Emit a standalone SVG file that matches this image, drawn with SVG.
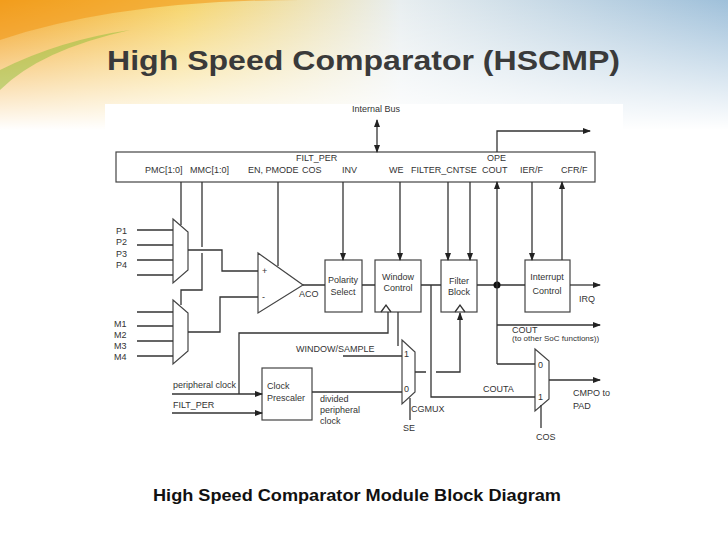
<svg xmlns="http://www.w3.org/2000/svg" width="728" height="546" viewBox="0 0 728 546">
<defs>
<linearGradient id="bg" x1="0" y1="0" x2="1" y2="0">
<stop offset="0" stop-color="#f2a21e"/><stop offset="0.25" stop-color="#f6d46a"/><stop offset="0.55" stop-color="#e8eef0"/><stop offset="1" stop-color="#9fc0da"/>
</linearGradient>
<linearGradient id="fade" x1="0" y1="0" x2="0" y2="1">
<stop offset="0" stop-color="#fff" stop-opacity="0"/><stop offset="1" stop-color="#fff" stop-opacity="1"/>
</linearGradient>
<marker id="a" markerWidth="8" markerHeight="8" refX="7" refY="4" orient="auto-start-reverse" markerUnits="userSpaceOnUse"><path d="M0,1 L8,4 L0,7 Z" fill="#222"/></marker>
<style>
.l{stroke:#333;stroke-width:1.3;fill:none}
.b{stroke:#444;stroke-width:1.2;fill:#fff}
text{font-family:"Liberation Sans",Arial,sans-serif;fill:#333}
.t{font-size:9px}
.c{font-size:9px;text-anchor:middle}
</style>
</defs>
<rect width="728" height="546" fill="#fff"/>
<rect width="728" height="130" fill="url(#bg)"/>
<rect width="728" height="130" fill="url(#fade)"/>
<path d="M0,40 Q120,0 300,0 L0,0 Z" fill="#f29a1a" opacity="0.6"/>
<path d="M0,90 Q40,50 130,30 Q60,40 0,70 Z" fill="#8fbf3a" opacity="0.5"/>
<text x="107" y="70" textLength="513" lengthAdjust="spacingAndGlyphs" style="font-size:28px;font-weight:bold;fill:#3a3a3a">High Speed Comparator (HSCMP)</text>
<rect x="105" y="104" width="518" height="338" fill="#fff"/>

<g id="register"><rect class="b" x="116" y="152" width="479" height="30"/>
<text class="t" x="145" y="173">PMC[1:0]</text><text class="t" x="190" y="173">MMC[1:0]</text>
<text class="t" x="248" y="173">EN, PMODE</text><text class="t" x="296" y="161">FILT_PER</text><text class="t" x="302" y="173">COS</text>
<text class="t" x="342" y="173">INV</text><text class="t" x="389" y="173">WE</text><text class="t" x="411" y="173">FILTER_CNTSE</text>
<text class="t" x="487" y="161">OPE</text><text class="t" x="482" y="173">COUT</text><text class="t" x="520" y="173">IER/F</text><text class="t" x="561" y="173">CFR/F</text></g>
<g id="bus"><text class="t" x="352" y="112">Internal Bus</text></g>
<g id="mux1"><path class="b" d="M173,219 L188,232 L188,270 L173,283 Z"/>
<text class="t" x="116" y="234">P1</text><text class="t" x="116" y="245">P2</text><text class="t" x="116" y="257">P3</text><text class="t" x="116" y="268">P4</text></g>
<g id="mux2"><path class="b" d="M173,300 L188,313 L188,351 L173,364 Z"/>
<text class="t" x="114" y="327">M1</text><text class="t" x="114" y="338">M2</text><text class="t" x="114" y="349">M3</text><text class="t" x="114" y="360">M4</text></g>
<g id="comparator"><path class="b" d="M258,253 L258,313 L303,285 Z"/>
<text class="t" x="262" y="274">+</text><text class="t" x="262" y="300">-</text><text class="t" x="299" y="297">ACO</text></g>
<g id="polarity"><rect class="b" x="325" y="260" width="37" height="52"/><text class="c" x="343" y="283">Polarity</text><text class="c" x="343" y="295">Select</text></g>
<g id="window"><rect class="b" x="375" y="260" width="46" height="52"/><text class="c" x="398" y="280">Window</text><text class="c" x="398" y="291">Control</text><path class="l" d="M381,312 L386,305 L391,312" stroke-width="1"/></g>
<g id="filter"><rect class="b" x="441" y="260" width="36" height="52"/><text class="c" x="459" y="284">Filter</text><text class="c" x="459" y="295">Block</text><path class="l" d="M455,312 L460,305 L465,312" stroke-width="1"/></g>
<g id="interrupt"><rect class="b" x="525" y="260" width="45" height="52"/><text class="c" x="547" y="280">Interrupt</text><text class="c" x="547" y="294">Control</text><text class="t" x="579" y="302">IRQ</text></g>
<g id="prescaler"><rect class="b" x="262" y="368" width="50" height="52"/><text class="t" x="267" y="389">Clock</text><text class="t" x="267" y="401">Prescaler</text>
<text class="t" x="173" y="388">peripheral clock</text><text class="t" x="173" y="408">FILT_PER</text>
<text class="t" x="320" y="402">divided</text><text class="t" x="320" y="413">peripheral</text><text class="t" x="320" y="424">clock</text></g>
<g id="cgmux"><path class="b" d="M402,340 L415,352 L415,392 L402,404 Z"/><text class="t" x="404" y="357">1</text><text class="t" x="404" y="392">0</text>
<text class="t" x="296" y="352">WINDOW/SAMPLE</text><text class="t" x="411" y="412">CGMUX</text><text class="t" x="403" y="431">SE</text></g>
<g id="outmux"><path class="b" d="M535,349 L549,361 L549,399 L535,411 Z"/><text class="t" x="538" y="368">0</text><text class="t" x="538" y="400">1</text>
<text class="t" x="573" y="396">CMPO to</text><text class="t" x="573" y="409">PAD</text><text class="t" x="536" y="440">COS</text>
<text class="t" x="512" y="333">COUT</text><text style="font-size:8px" x="512" y="341">(to other SoC functions))</text><text class="t" x="483" y="392">COUTA</text></g>

<g id="connectors">
<path class="l" d="M377,120 L377,152" marker-start="url(#a)" marker-end="url(#a)"/>
<path class="l" d="M137,230 H173 M137,245 H173 M137,260 H173 M137,275 H173"/>
<path class="l" d="M137,312 H173 M137,326 H173 M137,341 H173 M137,356 H173"/>
<path class="l" d="M181,182 V225"/>
<path class="l" d="M202,182 V247 M202,253 V290 H181 V305"/>
<path class="l" d="M278,182 V266"/>
<path class="l" d="M188,250 H222 V271 H258"/>
<path class="l" d="M188,332 H220 V297 H258"/>
<path class="l" d="M303,285 H325 M362,285 H375 M421,285 H441 M477,285 H525"/>
<path class="l" d="M343,182 V260" marker-end="url(#a)"/>
<path class="l" d="M400,182 V260" marker-end="url(#a)"/>
<path class="l" d="M448,182 V260" marker-end="url(#a)"/>
<path class="l" d="M470,182 V260" marker-end="url(#a)"/>
<path class="l" d="M532,182 V260" marker-end="url(#a)"/>
<path class="l" d="M562,260 V182" marker-end="url(#a)"/>
<path class="l" d="M570,285 H600" marker-end="url(#a)"/>
<circle cx="497" cy="285" r="3.5" fill="#111"/>
<path class="l" d="M497,364 V182" marker-end="url(#a)"/>
<path class="l" d="M497,152 V131 H590" marker-end="url(#a)"/>
<path class="l" d="M497,325 H600" marker-end="url(#a)"/>
<path class="l" d="M497,364 H535"/>
<path class="l" d="M431,285 V397 H535"/>
<path class="l" d="M549,380 H600" marker-end="url(#a)"/>
<path class="l" d="M541,405 V428"/>
<path class="l" d="M388,312 V333 H239 V394"/>
<path class="l" d="M398,312 V346"/>
<path class="l" d="M343,356 H402" stroke-width="2"/>
<path class="l" d="M312,392 H402"/>
<path class="l" d="M415,372 H426 M436,372 H460 V313" marker-end="url(#a)"/>
<path class="l" d="M410,398 V420"/>
<path class="l" d="M172,394 H262" marker-end="url(#a)"/>
<path class="l" d="M172,413 H262" marker-end="url(#a)"/>
</g>
<text x="357" y="501" textLength="408" lengthAdjust="spacingAndGlyphs" style="font-size:16px;font-weight:bold;text-anchor:middle;fill:#111">High Speed Comparator Module Block Diagram</text>
</svg>
